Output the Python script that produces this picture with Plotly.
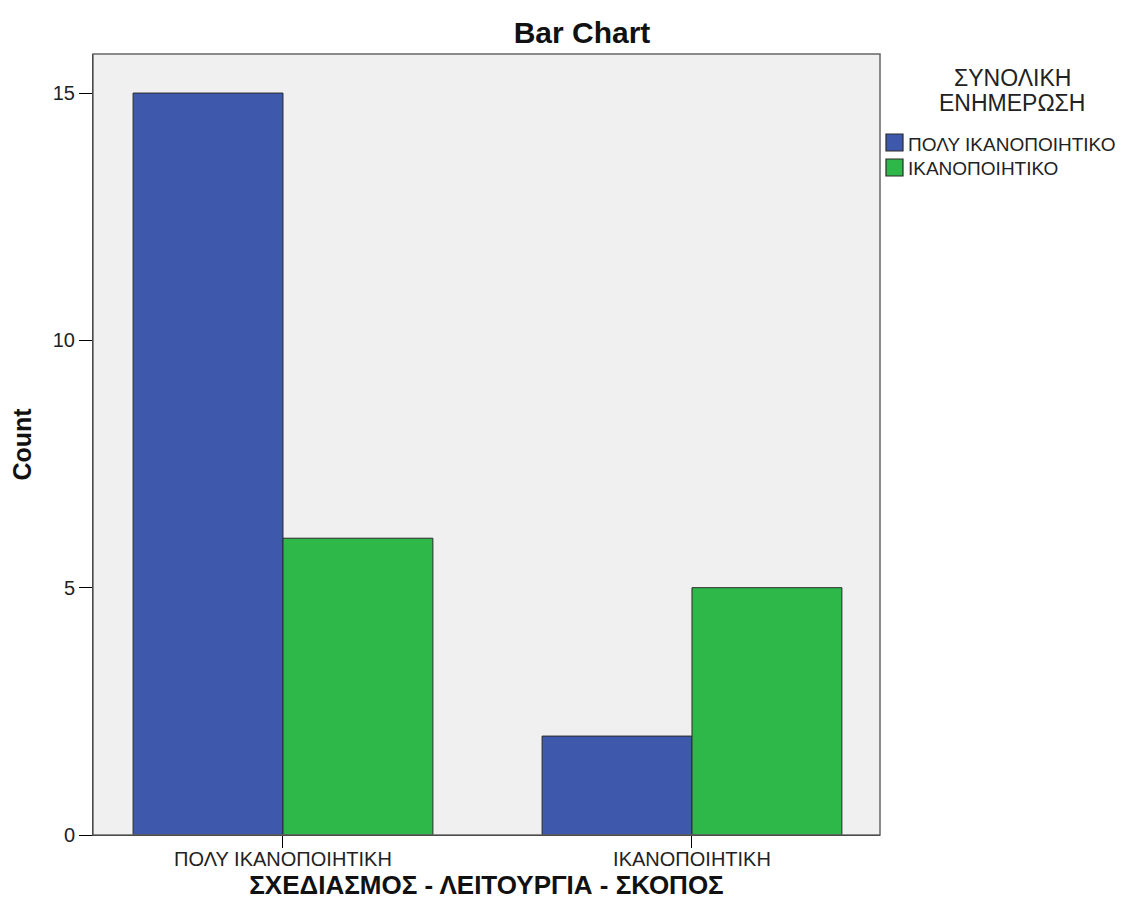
import plotly.graph_objects as go

categories = ["ΠΟΛΥ ΙΚΑΝΟΠΟΙΗΤΙΚΗ", "ΙΚΑΝΟΠΟΙΗΤΙΚΗ"]
series_names = ["ΠΟΛΥ ΙΚΑΝΟΠΟΙΗΤΙΚΟ", "ΙΚΑΝΟΠΟΙΗΤΙΚΟ"]
very_satisfactory = [15, 2]
satisfactory = [6, 5]
colors = ["#3e58ac", "#2eb84a"]
y_ticks = [0, 5, 10, 15]
legend_title = ["ΣΥΝΟΛΙΚΗ", "ΕΝΗΜΕΡΩΣΗ"]

FONT = "Liberation Sans, Arial, sans-serif"

# page geometry (page has an 8px body offset)
W, H = 1122, 909
PL, PR, PT, PB = 93, 880, 54, 835  # plot box in page pixels


def px(xp):
    return (xp - PL) / (PR - PL)


def py(yp):
    return (PB - yp) / (PB - PT)


fig = go.Figure()
for name, vals, col in zip(series_names, [very_satisfactory, satisfactory], colors):
    fig.add_trace(go.Bar(
        x=categories, y=vals, name=name, showlegend=False,
        marker=dict(color=col, line=dict(color="#2a2a2a", width=1)),
    ))

annotations = []
shapes = [dict(type="rect", xref="paper", yref="paper", x0=0, y0=0, x1=1, y1=1,
               line=dict(color="#666", width=1.5), layer="above")]

# legend title
for i, line in enumerate(legend_title):
    annotations.append(dict(text=line, xref="paper", yref="paper",
                            x=px(1012), y=py(78 + 25 * i), xanchor="center", yanchor="middle",
                            showarrow=False, font=dict(size=23, color="#222")))
# legend items
for i, (name, col) in enumerate(zip(series_names, colors)):
    cy = 143 + 25 * i
    shapes.append(dict(type="rect", xref="paper", yref="paper",
                       x0=px(886), x1=px(903), y0=py(cy - 9), y1=py(cy + 8),
                       fillcolor=col, line=dict(color="#2a2a2a", width=1.2)))
    annotations.append(dict(text=name, xref="paper", yref="paper",
                            x=px(906), y=py(cy + 1), xanchor="left", yanchor="middle",
                            showarrow=False, font=dict(size=19, color="#222")))

fig.update_layout(
    width=W, height=H,
    barmode="group", bargap=0.267, bargroupgap=0,
    plot_bgcolor="#f0f0f0", paper_bgcolor="white",
    margin=dict(l=PL - 8, r=W - (PR - 8), t=PT - 8, b=H - (PB - 8)),
    font=dict(family=FONT, color="#222", size=20),
    showlegend=False,
    title=dict(text="<b>Bar Chart</b>", x=(px(582) * (PR - PL) + PL - 8) / W, xanchor="center",
               y=1 - (32 - 8) / H, yanchor="middle", font=dict(size=30, color="#111")),
    xaxis=dict(
        type="category", range=[-0.4645, 1.4597],
        showline=True, linecolor="black", linewidth=1,
        ticks="outside", ticklen=12, tickcolor="black",
        ticklabelstandoff=-6,
        showgrid=False, automargin=False,
        title=dict(text="<b>ΣΧΕΔΙΑΣΜΟΣ - ΛΕΙΤΟΥΡΓΙΑ - ΣΚΟΠΟΣ</b>",
                   font=dict(size=26, color="#111"), standoff=6),
        tickfont=dict(size=20, color="#222"),
    ),
    yaxis=dict(
        range=[0, 15.79], tickvals=y_ticks,
        showline=True, linecolor="black", linewidth=1,
        ticks="outside", ticklen=13, tickcolor="black",
        showgrid=False, zeroline=False, automargin=False,
        title=dict(text="<b>Count</b>", font=dict(size=25, color="#111"), standoff=22),
        tickfont=dict(size=20, color="#222"),
    ),
    shapes=shapes,
    annotations=annotations,
)

fig.write_html("out.html")
